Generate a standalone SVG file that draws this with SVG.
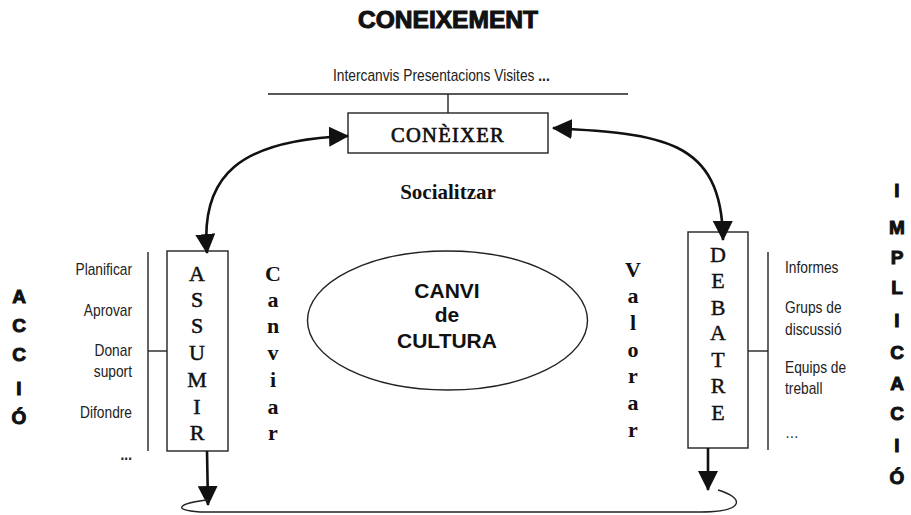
<svg xmlns="http://www.w3.org/2000/svg" width="911" height="515" viewBox="0 0 911 515">
<style>
.black{font-family:"Liberation Sans",Arial,sans-serif;font-weight:900;fill:#111;stroke:#111;stroke-width:1;text-anchor:middle}
.sans{font-family:"Liberation Sans",Arial,sans-serif;fill:#222;font-size:16px}
.serif{font-family:"Liberation Serif","Times New Roman",serif;fill:#111;text-anchor:middle}
.bold{font-weight:bold}
.box{fill:#fff;stroke:#222;stroke-width:1.4}
.thin{fill:none;stroke:#222;stroke-width:1.4}
.conn{fill:none;stroke:#111;stroke-width:2.6}
</style>
<defs>
<marker id="ah" viewBox="0 0 20 20" refX="19" refY="10" markerWidth="20" markerHeight="20" markerUnits="userSpaceOnUse" orient="auto-start-reverse">
<path d="M0 0 L20 10 L0 20 Z" fill="#111"/>
</marker>
</defs>
<rect width="911" height="515" fill="#fff"/>

<text class="black" x="448" y="28" font-size="23" textLength="180" lengthAdjust="spacingAndGlyphs">CONEIXEMENT</text>

<g id="activitats-coneixer">
<g transform="translate(333 0) scale(0.86 1)">
<text class="sans" x="0" y="81" font-size="16.5">Intercanvis Presentacions Visites <tspan font-weight="bold">...</tspan></text>
</g>
<line class="thin" x1="268" y1="94" x2="628" y2="94"/>
<line class="thin" x1="448" y1="94" x2="448" y2="113"/>
</g>

<g id="coneixer">
<rect class="box" x="348" y="113" width="200" height="40"/>
<text class="serif" x="448" y="142" font-size="20.5" letter-spacing="1.3" stroke="#111" stroke-width="0.7">CONÈIXER</text>
</g>

<text class="serif bold" x="448" y="199" font-size="21">Socialitzar</text>

<g id="accio" class="black" font-size="19">
<text x="19" y="303">A</text>
<text x="19" y="332">C</text>
<text x="19" y="361">C</text>
<text x="19" y="395">I</text>
<text x="19" y="424">Ó</text>
</g>

<g id="llista-assumir">
<g transform="translate(132 0) scale(0.86 1)">
<text class="sans" x="0" y="275" text-anchor="end">Planificar</text>
<text class="sans" x="0" y="316" text-anchor="end">Aprovar</text>
<text class="sans" x="0" y="356" text-anchor="end">Donar</text>
<text class="sans" x="0" y="377" text-anchor="end">suport</text>
<text class="sans" x="0" y="418" text-anchor="end">Difondre</text>
<text class="sans bold" x="0" y="460" text-anchor="end">...</text>
</g>
<line class="thin" x1="148" y1="252" x2="148" y2="451"/>
<line class="thin" x1="148" y1="351" x2="167" y2="351"/>
</g>

<g id="assumir">
<rect class="box" x="167" y="251" width="61" height="200"/>
<g class="serif" font-size="22" stroke="#111" stroke-width="0.5">
<text x="197" y="281">A</text>
<text x="197" y="307">S</text>
<text x="197" y="333">S</text>
<text x="197" y="360">U</text>
<text x="197" y="387">M</text>
<text x="197" y="414">I</text>
<text x="197" y="440">R</text>
</g>
</g>

<g id="canviar" class="serif bold" font-size="22">
<text x="273" y="281">C</text>
<text x="273" y="307">a</text>
<text x="273" y="333">n</text>
<text x="273" y="360">v</text>
<text x="273" y="387">i</text>
<text x="273" y="414">a</text>
<text x="273" y="440">r</text>
</g>

<g id="canvi-cultura">
<ellipse class="thin" cx="447.5" cy="320.5" rx="140" ry="69.5"/>
<g font-family="'Liberation Sans',Arial,sans-serif" font-weight="bold" font-size="21" fill="#111" text-anchor="middle">
<text x="447" y="298">CANVI</text>
<text x="447" y="322">de</text>
<text x="447" y="348">CULTURA</text>
</g>
</g>

<g id="valorar" class="serif bold" font-size="22">
<text x="633" y="277">V</text>
<text x="633" y="303">a</text>
<text x="633" y="330">l</text>
<text x="633" y="357">o</text>
<text x="633" y="383">r</text>
<text x="633" y="410">a</text>
<text x="633" y="437">r</text>
</g>

<g id="debatre">
<rect class="box" x="688" y="232" width="60" height="216"/>
<g class="serif" font-size="22" stroke="#111" stroke-width="0.4">
<text x="718" y="262">D</text>
<text x="718" y="288">E</text>
<text x="718" y="315">B</text>
<text x="718" y="340">A</text>
<text x="718" y="367">T</text>
<text x="718" y="393">R</text>
<text x="718" y="420">E</text>
</g>
</g>

<g id="llista-debatre">
<line class="thin" x1="768" y1="252" x2="768" y2="450"/>
<line class="thin" x1="748" y1="351" x2="768" y2="351"/>
<g transform="translate(785 0) scale(0.86 1)">
<text class="sans" x="0" y="273">Informes</text>
<text class="sans" x="0" y="313">Grups de</text>
<text class="sans" x="0" y="335">discussió</text>
<text class="sans" x="0" y="373">Equips de</text>
<text class="sans" x="0" y="394">treball</text>
<text class="sans" x="0" y="438">…</text>
</g>
</g>

<g id="implicacio" class="black" font-size="19">
<text x="897" y="197">I</text>
<text x="897" y="234">M</text>
<text x="897" y="264">P</text>
<text x="897" y="294">L</text>
<text x="897" y="327">I</text>
<text x="897" y="359">C</text>
<text x="897" y="390">A</text>
<text x="897" y="420">C</text>
<text x="897" y="452">I</text>
<text x="897" y="484">Ó</text>
</g>

<g id="connectors">
<path class="conn" d="M207 253 C200 175, 240 140, 348 136" marker-start="url(#ah)" marker-end="url(#ah)"/>
<path class="conn" d="M553 128 C660 134, 722 138, 723 240" marker-start="url(#ah)" marker-end="url(#ah)"/>
<path class="conn" d="M207 451 L208 505" marker-end="url(#ah)"/>
<path class="conn" d="M708 448 L708 490" marker-end="url(#ah)"/>
<path class="thin" stroke-width="2" d="M208 500 C180 503, 170 510, 200 512 L700 512 C745 512, 745 498, 718 490"/>
</g>
</svg>
